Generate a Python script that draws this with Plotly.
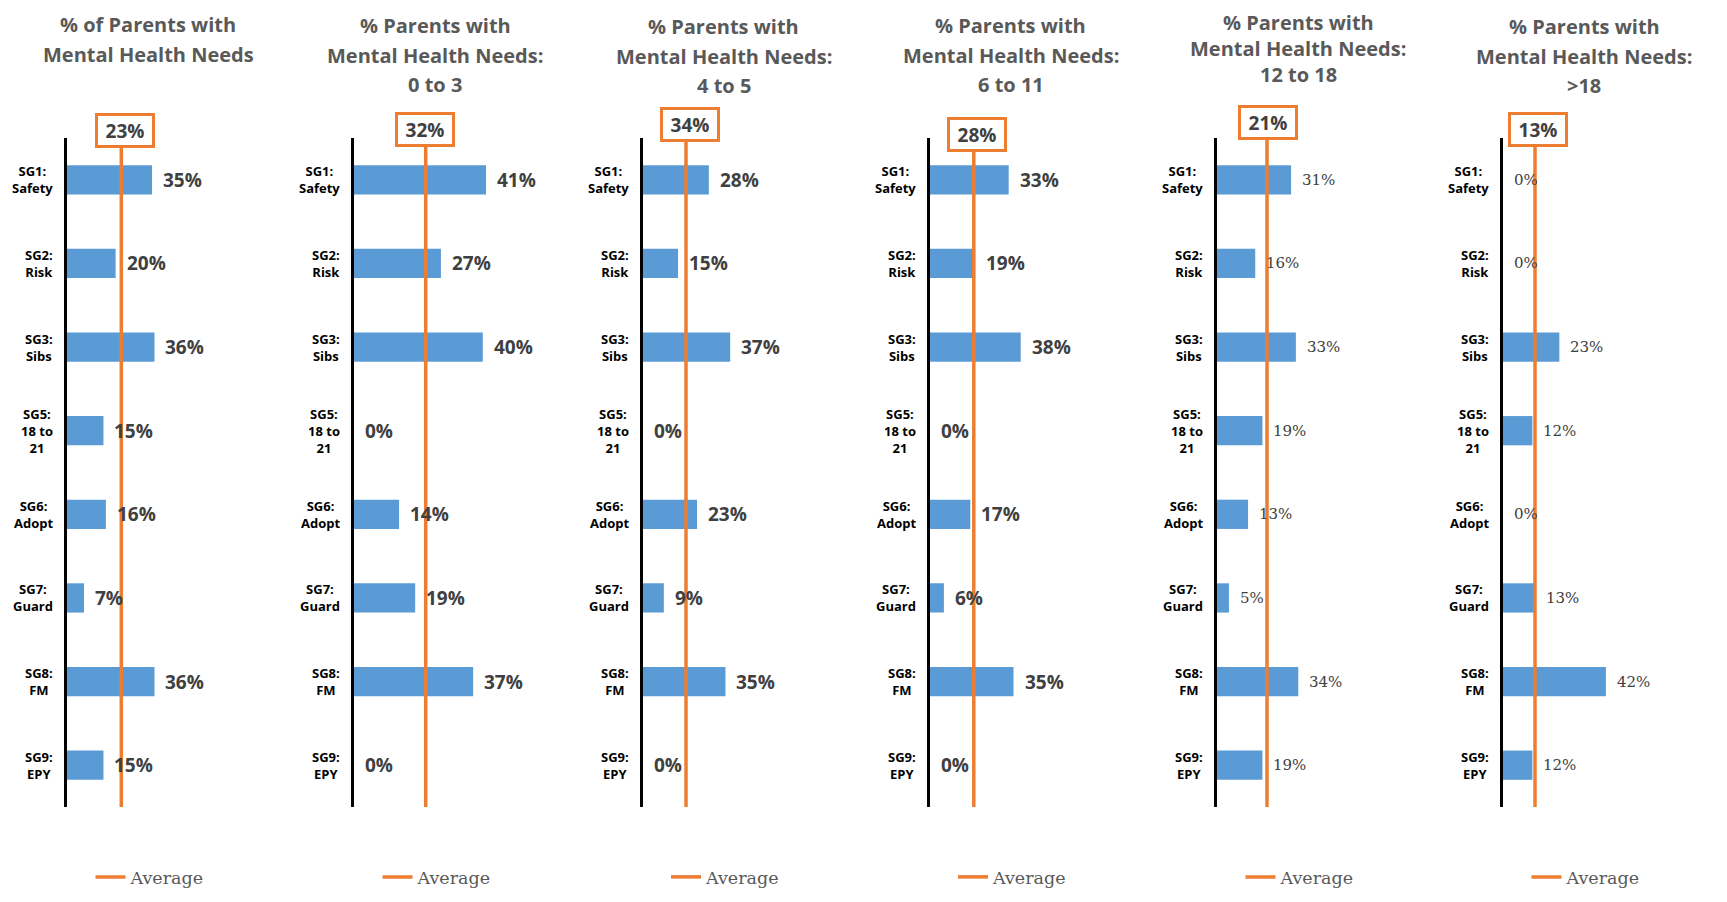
import plotly.graph_objects as go

# ---------------- data ----------------
categories = ["SG1:<br>Safety", "SG2:<br>Risk", "SG3:<br>Sibs", "SG5:<br>18 to<br>21",
              "SG6:<br>Adopt", "SG7:<br>Guard", "SG8:<br>FM", "SG9:<br>EPY"]

title_all = ["% of Parents with", "Mental Health Needs"]
title_0_3 = ["% Parents with", "Mental Health Needs:", "0 to 3"]
title_4_5 = ["% Parents with", "Mental Health Needs:", "4 to 5"]
title_6_11 = ["% Parents with", "Mental Health Needs:", "6 to 11"]
title_12_18 = ["% Parents with", "Mental Health Needs:", "12 to 18"]
title_over_18 = ["% Parents with", "Mental Health Needs:", ">18"]

pct_all = [35, 20, 36, 15, 16, 7, 36, 15]
pct_0_3 = [41, 27, 40, 0, 14, 19, 37, 0]
pct_4_5 = [28, 15, 37, 0, 23, 9, 35, 0]
pct_6_11 = [33, 19, 38, 0, 17, 6, 35, 0]
pct_12_18 = [31, 16, 33, 19, 13, 5, 34, 19]
pct_over_18 = [0, 0, 23, 12, 0, 13, 42, 12]

averages = [23, 32, 34, 28, 21, 13]
legend_label = "Average"

titles = [title_all, title_0_3, title_4_5, title_6_11, title_12_18, title_over_18]
series = [pct_all, pct_0_3, pct_4_5, pct_6_11, pct_12_18, pct_over_18]

# ---------------- layout constants (pixels, page coordinates) ----------------
OFF = 8                      # default body margin of the html page
FW, FH = 1727 - OFF, 902 - OFF
axis_px = [67, 354, 642.5, 929.5, 1217, 1503]
plot_w = 200
px_per_pct = [2.43, 3.22, 2.37, 2.40, 2.39, 2.45]
avg_line_px = [54.3, 71.7, 43.5, 44.3, 50, 32]
box_y_px = [130.5, 129, 125, 134, 123, 129]
box_dx = [4, -1, 4, 3, 1, 3]
title_y_px = [25, 26, 27, 26, 22.5, 27]
title_gap = [29.5, 29.5, 29.5, 29.5, 26, 29.5]
plot_top, plot_bot = 138, 807
legend_y_px = 877

BLUE = "#5B9BD5"
ORANGE = "#ED7D31"
GREY_T = "#595959"
GREY_L = "#404040"


def px_x(p):
    return (p - OFF) / FW


def px_y(p):
    return 1 - (p - OFF) / FH


fig = go.Figure()
annotations = []
layout = dict(
    width=FW, height=FH,
    margin=dict(l=0, r=0, t=0, b=0),
    paper_bgcolor="white", plot_bgcolor="white",
    bargap=0.65,
)

for i in range(6):
    k = i + 1
    ko = i + 7
    xa = "x" if k == 1 else f"x{k}"
    ya = "y" if k == 1 else f"y{k}"
    xo, yo = f"x{ko}", f"y{ko}"
    leg = "legend" if k == 1 else f"legend{k}"

    vals = series[i]
    fig.add_trace(go.Bar(
        x=vals, y=categories, orientation="h",
        marker=dict(color=BLUE, line=dict(width=0)),
        xaxis=xa, yaxis=ya, showlegend=False, hoverinfo="x+y",
    ))
    avg = averages[i]
    fig.add_trace(go.Scatter(
        x=[avg, avg], y=[0, 1], mode="lines",
        line=dict(color=ORANGE, width=3.5),
        xaxis=xo, yaxis=yo, name=legend_label, legend=leg, showlegend=True,
    ))

    d0 = px_x(axis_px[i])
    d1 = px_x(axis_px[i] + plot_w)
    R = plot_w / px_per_pct[i]
    R2 = avg * plot_w / avg_line_px[i]
    ydom = [px_y(plot_bot), px_y(plot_top)]

    layout["xaxis" if k == 1 else f"xaxis{k}"] = dict(
        domain=[d0, d1], range=[0, R], visible=False, anchor=ya)
    layout["yaxis" if k == 1 else f"yaxis{k}"] = dict(
        domain=ydom, type="category", categoryarray=categories, categoryorder="array",
        range=[7.5, -0.5], showticklabels=False, ticks="", showgrid=False,
        showline=True, linecolor="black", linewidth=2.5, anchor=xa, zeroline=False)
    layout[f"xaxis{ko}"] = dict(overlaying=xa, range=[0, R2], visible=False, anchor=yo)
    layout[f"yaxis{ko}"] = dict(overlaying=ya, range=[0, 1], visible=False, anchor=xo)

    serif = i >= 4
    lab_font = (dict(family="DejaVu Serif", size=15, color=GREY_L) if serif
                else dict(family="Open Sans", size=19, color=GREY_L, weight="bold"))
    for c, v in zip(categories, vals):
        annotations.append(dict(
            x=v, y=c, xref=xa, yref=ya, text=f"{v}%", showarrow=False,
            xanchor="left", yanchor="middle", xshift=9,
            font=lab_font))
        annotations.append(dict(
            x=d0, y=c, xref="paper", yref=ya, text=c, showarrow=False,
            xanchor="right", yanchor="middle", xshift=-12, align="center",
            font=dict(family="Open Sans", size=13, color="black", weight="bold")))

    # average value box
    annotations.append(dict(
        x=avg, y=px_y(box_y_px[i]), xref=xo, yref="paper", text=f"{avg}%",
        showarrow=False, xanchor="center", yanchor="middle", xshift=box_dx[i],
        font=dict(family="Open Sans", size=19, color=GREY_L, weight="bold"),
        bgcolor="white", bordercolor=ORANGE, borderwidth=3, borderpad=1,
        width=52, height=27))

    # title lines
    cx = px_x(axis_px[i] + 81)
    for j, line in enumerate(titles[i]):
        annotations.append(dict(
            x=cx, y=px_y(title_y_px[i] + j * title_gap[i]), xref="paper", yref="paper",
            text=line, showarrow=False, xanchor="center", yanchor="middle",
            font=dict(family="Open Sans", size=20, color=GREY_T, weight="bold")))

    layout[leg] = dict(
        x=px_x(axis_px[i] + 83), y=px_y(legend_y_px), xanchor="center", yanchor="middle",
        orientation="h", bgcolor="rgba(0,0,0,0)",
        font=dict(family="DejaVu Serif", size=17.5, color=GREY_T))

layout["annotations"] = annotations
fig.update_layout(**layout)
fig.write_html("out.html")
